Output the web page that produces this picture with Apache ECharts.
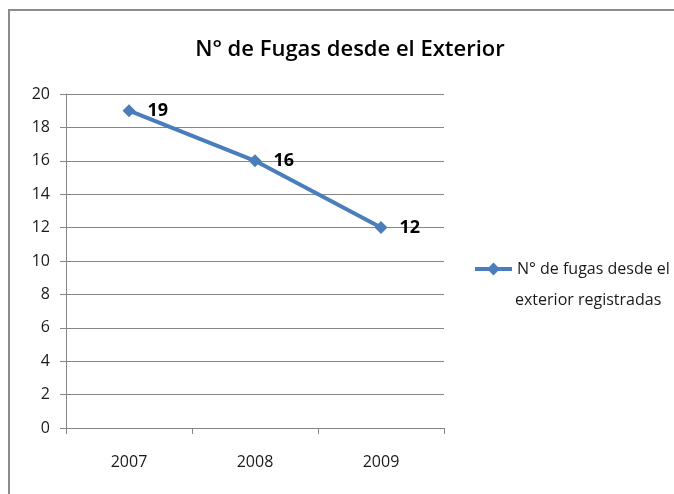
<!DOCTYPE html>
<html>
<head>
<meta charset="utf-8">
<style>
  html, body { margin: 0; padding: 0; background: #fff; }
  #chart_main { width: 674px; height: 494px; }
</style>
<script src="https://cdn.jsdelivr.net/npm/echarts@6/dist/echarts.min.js"></script>
</head>
<body>
<div id="chart_main"></div>
<script>
// datos
var years = ["2007", "2008", "2009"];
var fugas = [19, 16, 12];
var seriesName = "N° de fugas desde el exterior registradas";
var legendLine1 = "N° de fugas desde el";
var legendLine2 = "exterior registradas";
var lineColor = "#4A7EBB";
var fontFam = "'Open Sans', 'DejaVu Sans', sans-serif";

var option = {
  backgroundColor: "#fff",
  animation: false,
  title: {
    text: "N° de Fugas desde el Exterior",
    left: 345,
    textAlign: "center",
    top: 34,
    textStyle: {
      fontFamily: fontFam,
      fontSize: 22,
      fontWeight: 600,
      color: "#000"
    }
  },
  legend: {
    left: 468,
    top: 256,
    itemWidth: 37,
    itemHeight: 16,
    data: [seriesName],
    formatter: function () {
      return legendLine1;
    },
    lineStyle: { width: 4 },
    textStyle: {
      fontFamily: fontFam,
      fontSize: 16,
      color: "#1a1a1a"
    }
  },
  grid: {
    left: 66,
    right: 230,
    top: 94,
    bottom: 66
  },
  xAxis: {
    type: "category",
    data: years,
    boundaryGap: true,
    axisLine: { lineStyle: { color: "#868686", width: 1 } },
    axisTick: { show: true, length: 6, lineStyle: { color: "#868686" } },
    axisLabel: {
      margin: 26,
      fontFamily: fontFam,
      fontSize: 16,
      color: "#1a1a1a"
    }
  },
  yAxis: {
    type: "value",
    min: 0,
    max: 20,
    interval: 2,
    axisLine: { show: true, lineStyle: { color: "#868686", width: 1 } },
    axisTick: { show: true, length: 6, lineStyle: { color: "#868686" } },
    axisLabel: {
      margin: 16,
      fontFamily: fontFam,
      fontSize: 16,
      color: "#1a1a1a"
    },
    splitLine: { show: true, lineStyle: { color: "#868686", width: 1 } }
  },
  series: [
    {
      name: seriesName,
      type: "line",
      data: fugas,
      symbol: "diamond",
      symbolSize: 13,
      itemStyle: { color: lineColor },
      lineStyle: { color: lineColor, width: 4 },
      label: {
        show: true,
        position: "right",
        distance: 12,
        fontFamily: fontFam,
        fontSize: 18,
        fontWeight: "bold",
        color: "#000"
      }
    }
  ],
  graphic: [
    {
      type: "rect",
      shape: { x: 9, y: 10, width: 700, height: 520 },
      style: { fill: "none", stroke: "#8c8c8c", lineWidth: 2 },
      silent: true
    },
    {
      // segunda linea de la leyenda
      type: "text",
      left: 515,
      top: 292,
      style: {
        text: legendLine2,
        fontFamily: fontFam,
        fontSize: 16,
        fill: "#1a1a1a"
      },
      silent: true
    }
  ]
};

var myChart = echarts.init(document.getElementById("chart_main"));
myChart.setOption(option);
</script>
</body>
</html>
